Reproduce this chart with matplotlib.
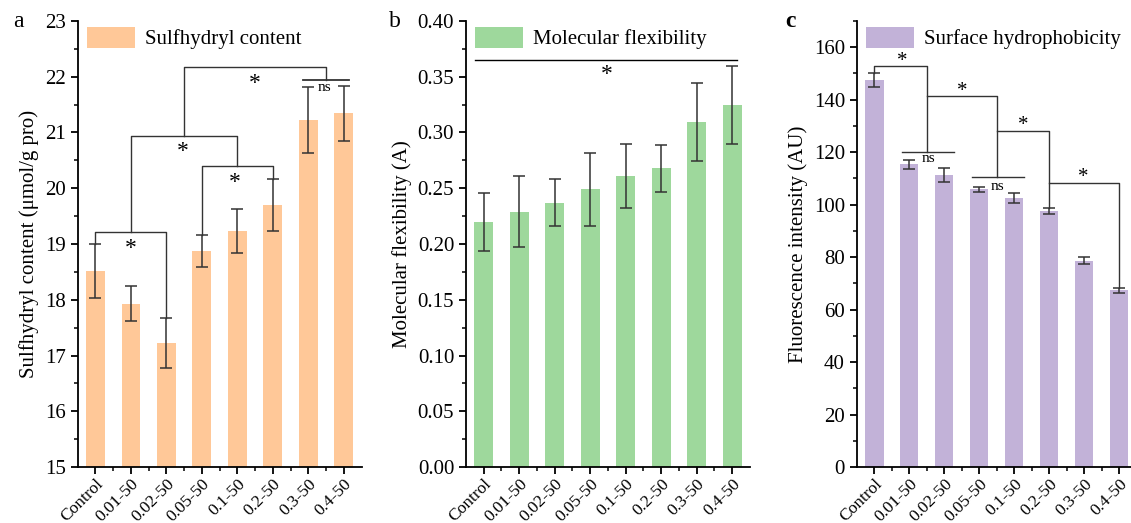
import numpy as np
import matplotlib
matplotlib.use("Agg")
import matplotlib.pyplot as plt
from matplotlib.ticker import MultipleLocator

plt.rcParams['font.family'] = ['Liberation Serif', 'DejaVu Serif']
plt.rcParams['axes.linewidth'] = 1.3

labels = ['Control', '0.01-50', '0.02-50', '0.05-50', '0.1-50', '0.2-50', '0.3-50', '0.4-50']

# sulfhydryl content (umol/g pro)
sh = [18.52, 17.93, 17.23, 18.87, 19.23, 19.70, 21.22, 21.34]
sh_err = [0.48, 0.32, 0.45, 0.29, 0.40, 0.47, 0.59, 0.50]

# molecular flexibility (A)
mf = [0.220, 0.229, 0.237, 0.249, 0.261, 0.268, 0.309, 0.325]
mf_err = [0.026, 0.032, 0.021, 0.033, 0.029, 0.021, 0.035, 0.035]

# surface hydrophobicity (AU)
hy = [147.5, 115.3, 111.4, 105.8, 102.7, 97.6, 78.7, 67.4]
hy_err = [2.8, 1.7, 2.7, 0.9, 1.9, 1.0, 1.2, 1.0]

LC = '#333333'


def bracket(ax, x1, x2, y, y1, y2):
    ax.plot([x1, x1, x2, x2], [y1, y, y, y2], color=LC, lw=1.0)


def setup(ax, ylim, major, minor, ylabel, fmt=None):
    x = np.arange(len(labels))
    ax.set_xlim(-0.5, 7.5)
    ax.set_ylim(*ylim)
    ax.spines['top'].set_visible(False)
    ax.spines['right'].set_visible(False)
    ax.set_xticks(x)
    ax.set_xticks(x[:-1] + 0.5, minor=True)
    ax.set_xticklabels(labels, rotation=45, ha='right', rotation_mode='anchor', fontsize=12.5)
    ax.yaxis.set_major_locator(MultipleLocator(major))
    ax.yaxis.set_minor_locator(MultipleLocator(minor))
    if fmt:
        ax.yaxis.set_major_formatter(fmt)
    ax.tick_params(axis='both', which='major', length=5, width=1.3, labelsize=15, direction='out')
    ax.tick_params(axis='both', which='minor', length=3, width=1.1, direction='out')
    ax.tick_params(axis='x', which='major', labelsize=12.5, pad=1.5)
    ax.set_ylabel(ylabel, fontsize=15)


def legend(ax):
    ax.legend(loc='upper left', bbox_to_anchor=(-0.02, 1.02), frameon=False, fontsize=15,
              handlelength=2.3, handleheight=1.2, handletextpad=0.5, borderaxespad=0.3)


fig = plt.figure(figsize=(11.31, 5.23), dpi=100)
axa = fig.add_axes([0.0687, 0.107, 0.251, 0.853])
axb = fig.add_axes([0.412, 0.107, 0.251, 0.853])
axc = fig.add_axes([0.7575, 0.107, 0.2475, 0.853])

x = np.arange(len(labels))
ekw = dict(ecolor=LC, elinewidth=1.1, capsize=4, capthick=1.1)

# ---- a
axa.bar(x, np.array(sh) - 15, bottom=15, width=0.53, color='#FFC898', yerr=sh_err,
        error_kw=ekw, label='Sulfhydryl content')
setup(axa, (15, 23), 1, 0.5, u'Sulfhydryl content (\u03bcmol/g pro)')
bracket(axa, 0, 2, 19.22, sh[0] + sh_err[0], sh[2] + sh_err[2])
bracket(axa, 3, 5, 20.40, sh[3] + sh_err[3], sh[5] + sh_err[5])
bracket(axa, 1, 4, 20.93, 19.22, 20.40)
axa.plot([5.85, 7.15], [21.94, 21.94], color=LC, lw=1.3)
bracket(axa, 2.5, 6.5, 22.17, 20.93, 21.94)
for sx, sy in [(1, 18.92), (3.94, 20.1), (2.46, 20.66), (4.48, 21.88)]:
    axa.text(sx, sy, '*', ha='center', va='center', fontsize=17)
axa.text(6.44, 21.8, 'ns', ha='center', va='center', fontsize=11)
legend(axa)

# ---- b
axb.bar(x, mf, width=0.53, color='#9ED89C', yerr=mf_err, error_kw=ekw, label='Molecular flexibility')
setup(axb, (0, 0.40), 0.05, 0.025, 'Molecular flexibility (A)', fmt='{x:.2f}')
axb.plot([-0.25, 7.14], [0.365, 0.365], color='black', lw=1.0)
axb.text(3.47, 0.352, '*', ha='center', va='center', fontsize=17)
legend(axb)

# ---- c
axc.bar(x, hy, width=0.53, color='#C2B2D8', yerr=hy_err, error_kw=ekw, label='Surface hydrophobicity')
setup(axc, (0, 170), 20, 10, 'Fluorescence intensity (AU)')
bracket(axc, 0, 1.5, 153.0, hy[0] + hy_err[0], 120.0)
axc.plot([0.78, 2.29], [120, 120], color=LC, lw=1.0)
bracket(axc, 1.5, 3.5, 141.2, 141.2, 110.5)
axc.plot([2.79, 4.29], [110.5, 110.5], color=LC, lw=1.0)
bracket(axc, 3.5, 5, 128.2, 128.2, hy[5] + hy_err[5])
bracket(axc, 5, 7, 108.2, 108.2, hy[7] + hy_err[7])
for sx, sy in [(0.79, 154.5), (2.51, 143.2), (4.27, 130.2), (5.96, 110.3)]:
    axc.text(sx, sy, '*', ha='center', va='center', fontsize=15)
axc.text(1.55, 117.4, 'ns', ha='center', va='center', fontsize=11)
axc.text(3.53, 107.0, 'ns', ha='center', va='center', fontsize=11)
legend(axc)

fig.text(0.012, 0.948, 'a', fontsize=17, va='baseline')
fig.text(0.344, 0.948, 'b', fontsize=17, va='baseline')
fig.text(0.694, 0.948, 'c', fontsize=17, va='baseline', fontweight='bold')

fig.savefig('out.png', dpi=100)
